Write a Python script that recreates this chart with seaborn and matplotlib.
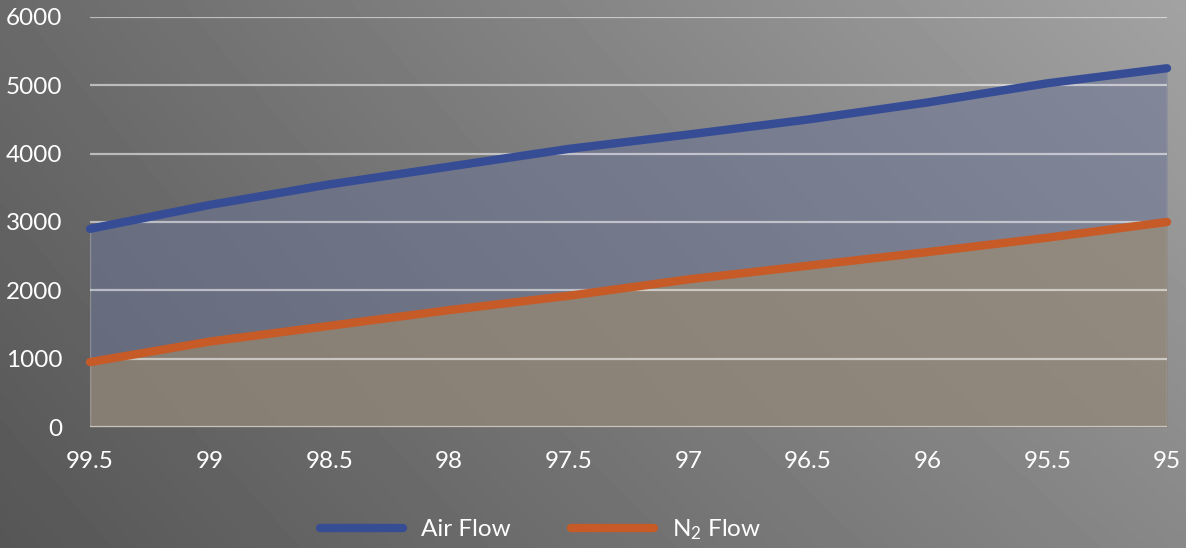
import numpy as np
import pandas as pd
import matplotlib
matplotlib.use("Agg")
import matplotlib.pyplot as plt
from matplotlib.ticker import FuncFormatter
import seaborn as sns

# Purity (%) on the x axis, flows on the y axis
purity = [99.5, 99.0, 98.5, 98.0, 97.5, 97.0, 96.5, 96.0, 95.5, 95.0]
air_flow = [2900, 3250, 3550, 3810, 4070, 4280, 4500, 4750, 5030, 5250]
n2_flow = [950, 1250, 1480, 1710, 1920, 2160, 2360, 2560, 2770, 3000]
series_names = ["Air Flow", "N$_2$ Flow"]
y_ticks = [0, 1000, 2000, 3000, 4000, 5000, 6000]

line_colors = ["#364d96", "#c65b27"]
fill_colors = ["#6c7496", "#a8926a"]

sns.set_theme(style="white")
plt.rcParams["font.family"] = ["Lato", "DejaVu Sans"]
plt.rcParams["mathtext.default"] = "regular"

df = pd.DataFrame({
    "purity": purity * 2,
    "flow": air_flow + n2_flow,
    "series": [series_names[0]] * len(purity) + [series_names[1]] * len(purity),
})

fig = plt.figure(figsize=(11.86, 5.48), dpi=100)

# Soft grey gradient backdrop, lighter toward the upper right
bg = fig.add_axes([0, 0, 1, 1], zorder=-10)
u = np.linspace(0, 1, 300)[None, :]
v = np.linspace(0, 1, 150)[:, None]
tl, tr, bl, br = 0x6a, 0xa2, 0x56, 0x88
grad = (tl * (1 - u) * (1 - v) + tr * u * (1 - v) + bl * (1 - u) * v + br * u * v) / 255.0
bg.imshow(grad, cmap="gray", vmin=0, vmax=1, aspect="auto", extent=[0, 1, 0, 1], interpolation="bicubic")
bg.set_axis_off()

ax = fig.add_axes([0.0759, 0.2208, 0.9081, 0.7482])
ax.set_facecolor("none")

# Translucent areas beneath each series
ax.fill_between(purity, 0, air_flow, color=fill_colors[0], alpha=0.55, lw=0, zorder=1)
ax.fill_between(purity, 0, n2_flow, color=fill_colors[1], alpha=0.5, lw=0, zorder=1.1)
for x in (purity[0], purity[-1]):
    ax.plot([x, x], [0, air_flow[purity.index(x)]], color="white", alpha=0.25, lw=1, zorder=1.2)

# Horizontal grid
for yv in y_ticks:
    ax.axhline(yv, color="#e6e2da" if yv == 0 else "white", alpha=0.55 if yv else 0.7,
               lw=1.6, zorder=1.5)

sns.lineplot(data=df, x="purity", y="flow", hue="series", palette=line_colors,
             lw=6, ax=ax, zorder=3, legend=False)
for ln in ax.get_lines()[-2:]:
    ln.set_solid_capstyle("round")
    ln.set_clip_on(False)

ax.set_xlim(99.5, 95.0)
ax.set_ylim(0, 6000)
ax.set_xticks(purity)
ax.set_yticks(y_ticks)
ax.xaxis.set_major_formatter(FuncFormatter(lambda v, p: f"{v:g}"))
ax.tick_params(axis="both", length=0, labelsize=17.5, labelcolor="white")
ax.tick_params(axis="x", pad=17)
ax.tick_params(axis="y", pad=20)
for s in ax.spines.values():
    s.set_visible(False)
ax.set_xlabel("")
ax.set_ylabel("")

handles = [plt.Line2D([], [], color=c, lw=6, solid_capstyle="round") for c in line_colors]
leg = fig.legend(handles, series_names, loc="center", bbox_to_anchor=(0.456, 0.034), ncol=2,
                 frameon=False, fontsize=17.5, handlelength=3.4, handletextpad=0.75,
                 columnspacing=2.5)
for t in leg.get_texts():
    t.set_color("white")

fig.savefig("out.png", dpi=100)
